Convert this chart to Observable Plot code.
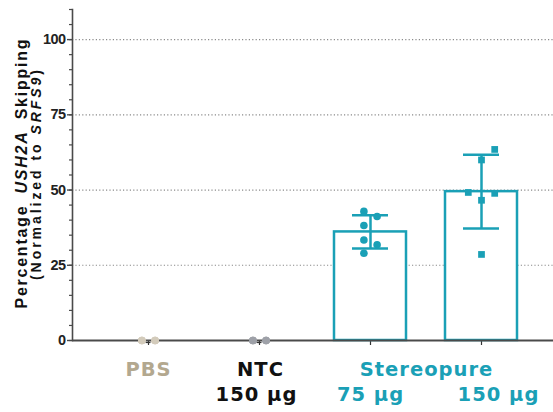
<!DOCTYPE html>
<html>
<head>
<meta charset="utf-8">
<script src="https://cdn.jsdelivr.net/npm/d3@7"></script>
<script src="https://cdn.jsdelivr.net/npm/@observablehq/plot@0.6"></script>
<style>
  html, body { margin: 0; padding: 0; background: #fff; }
  #chart svg { display: block; overflow: visible; }
  g[aria-label="y-axis tick label"] text { font-family: "Liberation Sans", Arial, sans-serif; font-weight: bold; font-size: 14.5px; fill: #222; letter-spacing: -0.6px; }
  g[aria-label="text"] text { letter-spacing: 1px; }
</style>
</head>
<body>
<div id="chart"></div>
<script>
// ---- data ----
const groups = ["PBS", "NTC 150 µg", "Stereopure 75 µg", "Stereopure 150 µg"];
const pbsValues = [0, 0, 0, 0, 0, 0];
const ntcValues = [0, 0, 0, 0, 0, 0];
const stereo75Values = [42.9, 41.2, 38.2, 33.4, 31.8, 29.0];
const stereo150Values = [63.5, 60.0, 49.2, 48.9, 46.6, 28.6];
// scatter column of each replicate (GraphPad-style spreading)
const pbsColumns = [-0.5, 0.5, -0.5, 0.5, -0.5, 0.5];
const ntcColumns = [-0.5, 0.5, -0.5, 0.5, -0.5, 0.5];
const stereo75Columns = [-0.5, 0.5, -0.5, -0.5, 0.5, -0.5];
const stereo150Columns = [1, 0, -1, 1, 0, 0];
const majorTicks = [0, 25, 50, 75, 100];
const minorTicks = [0, 5, 10, 15, 20, 25, 30, 35, 40, 45, 50, 55, 60, 65, 70, 75, 80, 85, 90, 95, 100, 105, 110];
const gridTicks = [25, 50, 75, 100];

const teal = "#1aa0b6";
const pbsColor = "#b3a88f";
const pbsDot = "#d3cbbb";
const ntcDot = "#9ea1a8";
const axisColor = "#4a4a4a";

const series = [
  {group: groups[0], values: pbsValues, cols: pbsColumns, color: pbsDot, symbol: "circle"},
  {group: groups[1], values: ntcValues, cols: ntcColumns, color: ntcDot, symbol: "circle"},
  {group: groups[2], values: stereo75Values, cols: stereo75Columns, color: teal, symbol: "circle"},
  {group: groups[3], values: stereo150Values, cols: stereo150Columns, color: teal, symbol: "square"}
];
const points = series.flatMap(s => s.values.map((v, i) => ({group: s.group, value: v, col: s.cols[i], color: s.color, symbol: s.symbol})));
const summary = series.map(s => ({group: s.group, mean: d3.mean(s.values), sd: d3.deviation(s.values) || 0, stereo: s.color === teal}));
const stereoSummary = summary.filter(d => d.stereo);
const controlSummary = summary.filter(d => !d.stereo);

const colSteps = [-1, -0.5, 0, 0.5, 1];
const dotMarks = colSteps.map(c => Plot.dot(points.filter(p => p.col === c), {
  x: "group", y: "value", dx: c * 13.2, fill: "color", symbol: "symbol", r: 3.8, stroke: null
}));

const labelFont = {fontFamily: "'DejaVu Sans', Verdana, sans-serif", fontWeight: "bold", fontSize: 19.5};

const plot = Plot.plot({
  width: 553,
  height: 412,
  marginLeft: 72,
  marginRight: 0,
  marginTop: 9,
  marginBottom: 72,
  style: {background: "#fff", overflow: "visible"},
  x: {domain: groups, range: [72, 558], paddingInner: 0.35, paddingOuter: 0.345, axis: null},
  y: {domain: [0, 110], axis: null},
  color: {type: "identity"},
  symbol: {type: "identity"},
  marks: [
    Plot.ruleY(gridTicks, {stroke: "#8a8a8a", strokeDasharray: "1.2,2.2", strokeWidth: 1.2}),
    Plot.axisY({ticks: minorTicks, tickSize: 3, text: null, stroke: axisColor, strokeWidth: 1.2}),
    Plot.axisY({ticks: majorTicks, tickSize: 5, tickPadding: 2, stroke: axisColor, strokeWidth: 1.4, label: null}),
    Plot.frame({anchor: "left", stroke: axisColor, strokeWidth: 1.6}),
    Plot.axisX({tickSize: 5, text: null, stroke: "#333", strokeWidth: 1.2, label: null}),
    Plot.barY(stereoSummary, {x: "group", y: "mean", fill: "#fff", stroke: teal, strokeWidth: 2.5}),
    Plot.ruleX(stereoSummary, {x: "group", y1: d => d.mean - d.sd, y2: d => d.mean + d.sd, stroke: teal, strokeWidth: 2.5}),
    Plot.tickY(stereoSummary, {x: "group", y: d => d.mean + d.sd, stroke: teal, strokeWidth: 2.5, insetLeft: 18, insetRight: 18}),
    Plot.tickY(stereoSummary, {x: "group", y: d => d.mean - d.sd, stroke: teal, strokeWidth: 2.5, insetLeft: 18, insetRight: 18}),
    Plot.ruleY([0], {stroke: axisColor, strokeWidth: 2}),
    Plot.tickY(controlSummary, {x: "group", y: "mean", dy: 2, stroke: "#333", strokeWidth: 1.2, insetLeft: 33.5, insetRight: 33.5}),
    ...dotMarks,
    // x category labels
    Plot.text([groups[0]], {x: d => d, text: ["PBS"], frameAnchor: "bottom", dy: 35, fill: pbsColor, ...labelFont}),
    Plot.text([groups[1]], {x: d => d, text: ["NTC"], frameAnchor: "bottom", dy: 35, dx: 1, fill: "#111", ...labelFont}),
    Plot.text([groups[1]], {x: d => d, text: ["150 µg"], frameAnchor: "bottom", dy: 60, dx: -3, fill: "#111", ...labelFont}),
    Plot.text([groups[2]], {x: d => d, text: ["Stereopure"], frameAnchor: "bottom", dy: 35, dx: 56, fill: teal, ...labelFont}),
    Plot.text([groups[2]], {x: d => d, text: ["75 µg"], frameAnchor: "bottom", dy: 60, fill: teal, ...labelFont}),
    Plot.text([groups[3]], {x: d => d, text: ["150 µg"], frameAnchor: "bottom", dy: 60, dx: 17, fill: teal, ...labelFont})
  ]
});

document.getElementById("chart").append(plot);

// y-axis title with italic gene names, spread to the reference's length
const svg = d3.select(plot);
const titleFont = "'Liberation Sans', Arial, sans-serif";
function addTitle(parts, baseX, centerY, size, target, wordGap) {
  const t = svg.append("text")
    .attr("text-anchor", "start")
    .attr("font-family", titleFont).attr("font-weight", "bold").attr("font-size", size)
    .attr("word-spacing", wordGap + "px").attr("fill", "#111");
  parts.forEach(p => t.append("tspan").attr("font-style", p.italic ? "italic" : null).text(p.text));
  const natural = t.node().getComputedTextLength();
  const n = parts.map(p => p.text).join("").length;
  const ls = Math.max(0, (target - natural) / (n - 1));
  t.attr("letter-spacing", ls + "px")
   .attr("x", -target / 2)
   .attr("transform", `translate(${baseX},${centerY}) rotate(-90)`);
}
addTitle([{text: "Percentage "}, {text: "USH2A", italic: true}, {text: " Skipping"}], 27, 174, 16, 269, 5);
addTitle([{text: "(Normalized to "}, {text: "SRFS9", italic: true}, {text: ")"}], 40.5, 175, 14, 210, 0);
</script>
</body>
</html>
